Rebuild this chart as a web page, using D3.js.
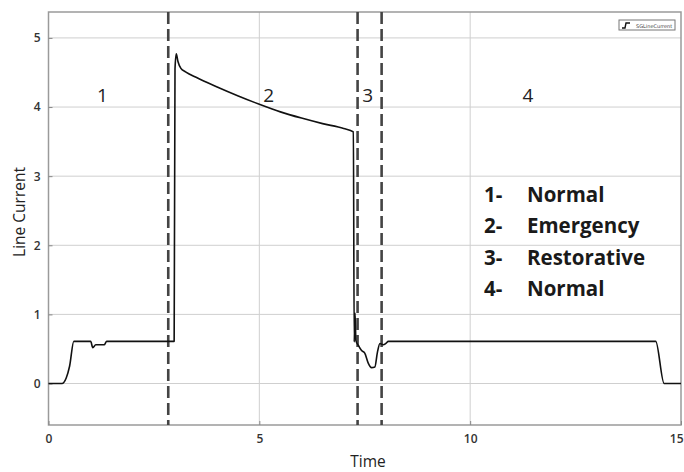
<!DOCTYPE html>
<html><head><meta charset="utf-8">
<script src="https://cdn.jsdelivr.net/npm/d3@7"></script>
<style>
html,body{margin:0;padding:0;background:#fff;}
svg{display:block;}
</style></head>
<body>
<script>
// ---- data ----
const timeValues = [0, 0.32, 0.42, 0.5, 0.6, 1.0, 1.05, 1.12, 1.32, 1.38, 2.98, 3.0, 3.03, 3.07, 3.14, 3.25, 3.5, 4.0, 4.5, 5.0, 5.5, 6.0, 6.5, 7.0, 7.23, 7.25, 7.27, 7.29, 7.35, 7.42, 7.5, 7.58, 7.66, 7.74, 7.8, 7.86, 7.94, 8.0, 8.06, 14.4, 14.6, 15];
const currentValues = [0, 0, 0.08, 0.25, 0.61, 0.61, 0.52, 0.56, 0.56, 0.61, 0.61, 4.55, 4.77, 4.66, 4.56, 4.51, 4.43, 4.29, 4.16, 4.04, 3.93, 3.84, 3.76, 3.69, 3.64, 0.6, 1.02, 0.62, 0.55, 0.48, 0.44, 0.3, 0.23, 0.24, 0.45, 0.58, 0.56, 0.58, 0.61, 0.61, 0, 0];
const phaseBoundaries = [2.84, 7.33, 7.9];
const phaseLabels = ["1", "2", "3", "4"];
const phaseLabelX = [1.28, 5.22, 7.57, 11.37];
const legendNumbers = ["1-", "2-", "3-", "4-"];
const legendNames = ["Normal", "Emergency", "Restorative", "Normal"];
const xTicks = [0, 5, 10, 15];
const yTicks = [0, 1, 2, 3, 4, 5];
const xDomain = [0, 15];
const yDomain = [-0.6, 5.375];

const W = 684, H = 472;
const m = {left: 48.5, right: 3, top: 12, bottom: 47};
const svg = d3.select("body").append("svg").attr("width", W).attr("height", H);

const x = d3.scaleLinear().domain(xDomain).range([m.left, W - m.right]);
const y = d3.scaleLinear().domain(yDomain).range([H - m.bottom, m.top]);

// gridlines
svg.append("g").selectAll("line").data(yTicks).join("line")
  .attr("x1", x(0)).attr("x2", x(15)).attr("y1", d => y(d)).attr("y2", d => y(d))
  .attr("stroke", "#cfcfcf").attr("stroke-width", 1);
svg.append("g").selectAll("line").data(xTicks.slice(1, -1)).join("line")
  .attr("x1", d => x(d)).attr("x2", d => x(d)).attr("y1", y(yDomain[0])).attr("y2", y(yDomain[1]))
  .attr("stroke", "#cfcfcf").attr("stroke-width", 1);

// border
svg.append("rect").attr("x", x(0)).attr("y", y(yDomain[1]))
  .attr("width", x(15) - x(0)).attr("height", y(yDomain[0]) - y(yDomain[1]))
  .attr("fill", "none").attr("stroke", "#9a9a9a").attr("stroke-width", 1.5);

// axes (labels only, ticks inside)
const xAxis = d3.axisBottom(x).tickValues(xTicks).tickSize(-4).tickPadding(9).tickFormat(d3.format("d"));
const gx = svg.append("g").attr("transform", `translate(0,${y(yDomain[0])})`).call(xAxis);
const yAxis = d3.axisLeft(y).tickValues(yTicks).tickSize(-4).tickPadding(8).tickFormat(d3.format("d"));
const gy = svg.append("g").attr("transform", `translate(${x(0)},0)`).call(yAxis);
[gx, gy].forEach(g => {
  g.select(".domain").remove();
  g.selectAll(".tick line").attr("stroke", "#888");
  g.selectAll(".tick text").attr("fill", "#333").style("font-family", "Open Sans")
    .style("font-size", "12px").style("font-weight", "600");
});
// last x tick label sits at the right edge: anchor it at its end so it stays in view
gx.selectAll(".tick text").filter(d => d === xDomain[1]).attr("text-anchor", "end").attr("dx", "2");

// axis titles
svg.append("text").attr("x", 368).attr("y", 467).attr("text-anchor", "middle")
  .style("font-family", "Open Sans").style("font-size", "15.5px").attr("fill", "#222").text("Time");
svg.append("text").attr("transform", "translate(25,212) rotate(-90)").attr("text-anchor", "middle")
  .style("font-family", "Open Sans").style("font-size", "15.5px").attr("fill", "#222").text("Line Current");

// dashed phase lines
svg.append("g").selectAll("line").data(phaseBoundaries).join("line")
  .attr("x1", d => x(d)).attr("x2", d => x(d)).attr("y1", y(yDomain[1])).attr("y2", y(yDomain[0]))
  .attr("stroke", "#444").attr("stroke-width", 2.6).attr("stroke-dasharray", "12,5");

// curve
const pts = timeValues.map((t, i) => [t, currentValues[i]]);
svg.append("path").datum(pts)
  .attr("d", d3.line().curve(d3.curveMonotoneX).x(d => x(d[0])).y(d => y(d[1])))
  .attr("fill", "none").attr("stroke", "#111").attr("stroke-width", 1.6).attr("stroke-linejoin", "round");

// phase labels
svg.append("g").selectAll("text").data(phaseLabels).join("text")
  .attr("x", (d, i) => x(phaseLabelX[i])).attr("y", y(4.07))
  .attr("text-anchor", "middle").style("font-family", "Open Sans").style("font-size", "19px")
  .attr("fill", "#222").text(d => d);

// legend text
const lg = svg.append("g");
lg.selectAll("text.num").data(legendNumbers).join("text").attr("class", "num")
  .attr("x", 484).attr("y", (d, i) => 202 + i * 31.3)
  .style("font-family", "Open Sans").style("font-size", "20.5px").style("font-weight", "700")
  .attr("fill", "#1a1a1a").text(d => d);
lg.selectAll("text.name").data(legendNames).join("text").attr("class", "name")
  .attr("x", 527).attr("y", (d, i) => 202 + i * 31.3)
  .style("font-family", "Open Sans").style("font-size", "20.5px").style("font-weight", "700")
  .attr("fill", "#1a1a1a").text(d => d);

// small signal legend box
const sb = svg.append("g");
sb.append("rect").attr("x", 619).attr("y", 20).attr("width", 56).attr("height", 10)
  .attr("fill", "#fff").attr("stroke", "#777").attr("stroke-width", 1);
sb.append("path").attr("d", "M622,28 L625,28 L626,23 L630,23").attr("fill", "none")
  .attr("stroke", "#111").attr("stroke-width", 1.4);
sb.append("text").attr("x", 636).attr("y", 27.5).style("font-family", "DejaVu Sans")
  .style("font-size", "5px").attr("fill", "#444").text("SGLineCurrent");
</script>
</body></html>
